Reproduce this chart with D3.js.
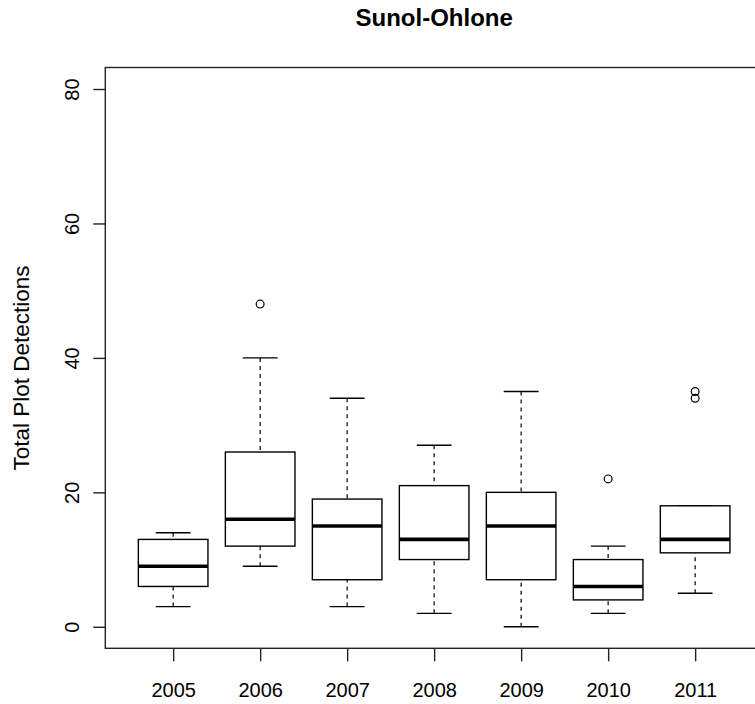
<!DOCTYPE html>
<html>
<head>
<meta charset="utf-8">
<script src="https://cdn.jsdelivr.net/npm/d3@7"></script>
<style>
  body { margin: 0; background: #fff; }
  text { font-family: "Liberation Sans", Arial, sans-serif; fill: #000; }
</style>
</head>
<body>
<svg></svg>
<script>
const w = 755;
const h = 704;

// Data
const years = ["2005", "2006", "2007", "2008", "2009", "2010", "2011"];
const whiskerLow = [3, 9, 3, 2, 0, 2, 5];
const q1 = [6, 12, 7, 10, 7, 4, 11];
const medians = [9, 16, 15, 13, 15, 6, 13];
const q3 = [13, 26, 19, 21, 20, 10, 18];
const whiskerHigh = [14, 40, 34, 27, 35, 12, 18];
const outliers = [[], [48], [], [], [], [22], [34, 35]];
const yTicks = [0, 20, 40, 60, 80];

const svg = d3.select("svg")
    .attr("width", w)
    .attr("height", h);

// plot region (right edge runs past the window like the original)
const pLeft = 105.3, pRight = 763, pTop = 67.5, pBottom = 648.3;

const x = d3.scaleLinear()
    .domain([0.22, 7.78])
    .range([pLeft, pRight]);

const y = d3.scaleLinear()
    .domain([-3.2, 83.2])
    .range([pBottom, pTop]);

const boxW = 0.8 * (x(2) - x(1));
const capW = boxW / 2;

const boxes = years.map((yr, i) => ({
    i: i + 1,
    lo: whiskerLow[i],
    q1: q1[i],
    med: medians[i],
    q3: q3[i],
    hi: whiskerHigh[i],
    out: outliers[i]
}));

const g = svg.append("g");

// whiskers
g.selectAll(".whisk-lo")
    .data(boxes)
    .enter()
    .append("line")
    .attr("x1", d => x(d.i)).attr("x2", d => x(d.i))
    .attr("y1", d => y(d.lo)).attr("y2", d => y(d.q1))
    .attr("stroke", "#000").attr("stroke-width", 1.2)
    .attr("stroke-dasharray", "4,4");

g.selectAll(".whisk-hi")
    .data(boxes)
    .enter()
    .append("line")
    .attr("x1", d => x(d.i)).attr("x2", d => x(d.i))
    .attr("y1", d => y(d.hi)).attr("y2", d => y(d.q3))
    .attr("stroke", "#000").attr("stroke-width", 1.2)
    .attr("stroke-dasharray", "4,4");

// caps
["lo", "hi"].forEach(k => {
    g.selectAll(".cap-" + k)
        .data(boxes)
        .enter()
        .append("line")
        .attr("x1", d => x(d.i) - capW / 2).attr("x2", d => x(d.i) + capW / 2)
        .attr("y1", d => y(d[k])).attr("y2", d => y(d[k]))
        .attr("stroke", "#000").attr("stroke-width", 1.4);
});

// boxes
g.selectAll(".box")
    .data(boxes)
    .enter()
    .append("rect")
    .attr("x", d => x(d.i) - boxW / 2)
    .attr("y", d => y(d.q3))
    .attr("width", boxW)
    .attr("height", d => y(d.q1) - y(d.q3))
    .attr("fill", "#fff")
    .attr("stroke", "#000")
    .attr("stroke-width", 1.4);

// medians
g.selectAll(".median")
    .data(boxes)
    .enter()
    .append("line")
    .attr("x1", d => x(d.i) - boxW / 2).attr("x2", d => x(d.i) + boxW / 2)
    .attr("y1", d => y(d.med)).attr("y2", d => y(d.med))
    .attr("stroke", "#000").attr("stroke-width", 3.6);

// outliers
g.selectAll(".out")
    .data(boxes.flatMap(d => d.out.map(v => ({ i: d.i, v }))))
    .enter()
    .append("circle")
    .attr("cx", d => x(d.i))
    .attr("cy", d => y(d.v))
    .attr("r", 3.9)
    .attr("fill", "none")
    .attr("stroke", "#000")
    .attr("stroke-width", 1.2);

// frame
svg.append("rect")
    .attr("x", pLeft).attr("y", pTop)
    .attr("width", pRight - pLeft).attr("height", pBottom - pTop)
    .attr("fill", "none")
    .attr("stroke", "#222")
    .attr("stroke-width", 1.4);

// axes
const xAxis = d3.axisBottom(x)
    .tickValues(d3.range(1, years.length + 1))
    .tickFormat(d => years[d - 1])
    .tickSize(13)
    .tickPadding(20);

svg.append("g")
    .attr("transform", `translate(0,${pBottom})`)
    .call(xAxis)
    .call(a => a.select(".domain").remove())
    .call(a => a.selectAll("line").attr("stroke", "#222").attr("stroke-width", 1.4))
    .call(a => a.selectAll("text")
        .attr("y", 48.4).attr("dy", null)
        .style("font-size", "20px")
        .style("font-family", "Liberation Sans, Arial, sans-serif"));

const yAxis = d3.axisLeft(y)
    .tickValues(yTicks)
    .tickSize(12)
    .tickFormat(d3.format("d"));

svg.append("g")
    .attr("transform", `translate(${pLeft},0)`)
    .call(yAxis)
    .call(a => a.select(".domain").remove())
    .call(a => a.selectAll("line").attr("stroke", "#222").attr("stroke-width", 1.4))
    .call(a => a.selectAll("text").remove())
    .call(a => a.selectAll(".tick")
        .append("text")
        .attr("transform", "translate(-26,0) rotate(-90)")
        .attr("text-anchor", "middle")
        .style("font-size", "20px")
        .style("font-family", "Liberation Sans, Arial, sans-serif")
        .style("fill", "#000")
        .text(d => d));

// titles
svg.append("text")
    .attr("x", (pLeft + pRight) / 2)
    .attr("y", 26)
    .attr("text-anchor", "middle")
    .style("font-size", "24px")
    .style("font-weight", "bold")
    .text("Sunol-Ohlone");

svg.append("text")
    .attr("transform", "translate(29,368) rotate(-90)")
    .attr("text-anchor", "middle")
    .style("font-size", "22.5px")
    .text("Total Plot Detections");
</script>
</body>
</html>
